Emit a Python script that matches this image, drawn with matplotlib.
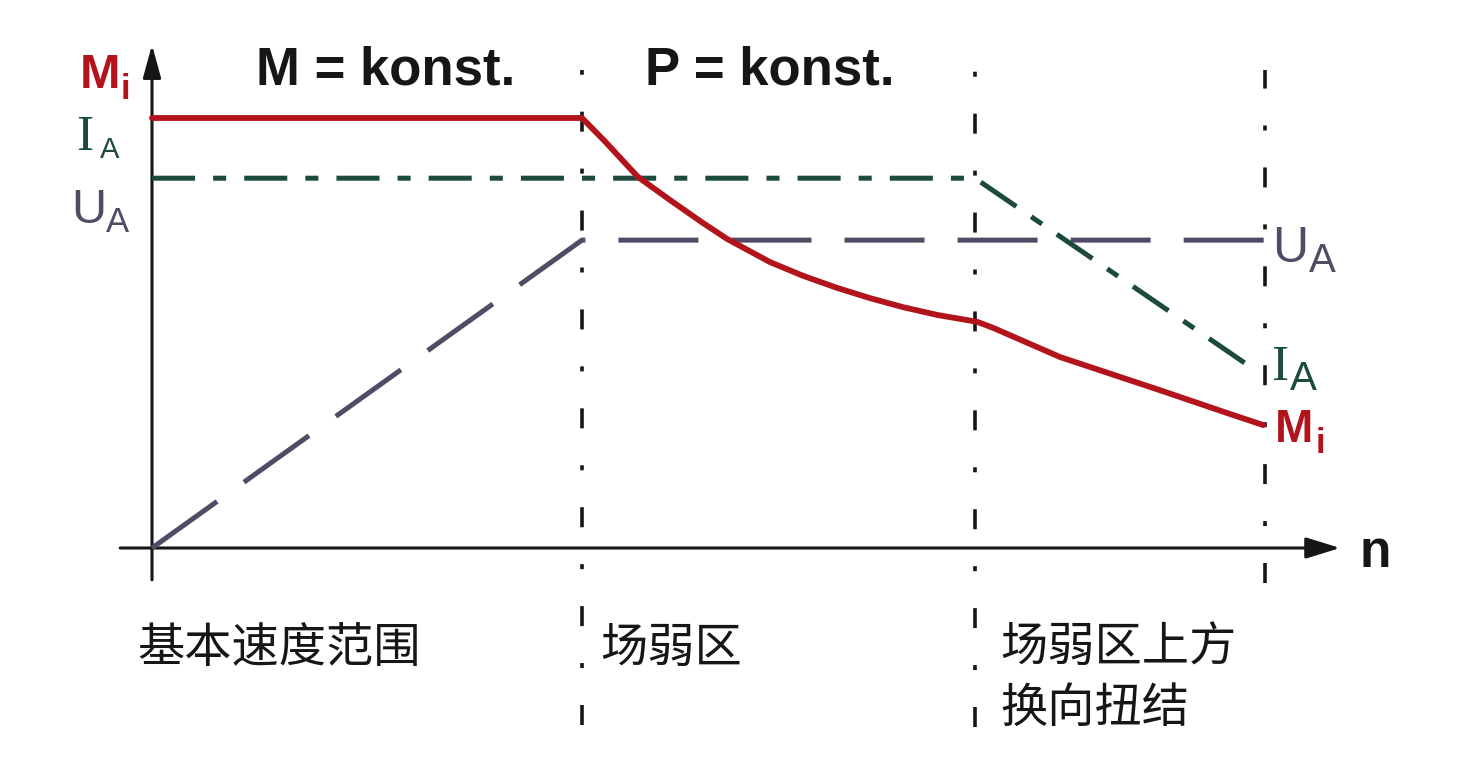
import matplotlib
matplotlib.use("Agg")
import matplotlib.pyplot as plt

# =============================
# DATA (n normalised to base speed, values normalised to rated M)
# =============================

# internal torque M_i: constant, then ~1/n, then steeper drop
MI_N = [0.0, 1.0, 1.053, 1.13, 1.205, 1.281, 1.337, 1.437, 1.514, 1.593,
        1.67, 1.747, 1.826, 1.919, 1.956, 2.112, 2.344, 2.5, 2.584]
MI_V = [1.0, 1.0, 0.946, 0.863, 0.809, 0.756, 0.719, 0.665, 0.633, 0.605,
        0.581, 0.56, 0.542, 0.526, 0.512, 0.444, 0.367, 0.314, 0.286]

# armature current I_A
IA_N = [0.0, 1.914, 2.565]
IA_V = [0.86, 0.86, 0.414]

# armature voltage U_A
UA_N = [0.0, 1.0, 2.588]
UA_V = [0.0, 0.716, 0.716]

# region borders (speed) and how far down each divider goes
BORDER_N = [1.0, 1.914, 2.588]
BORDER_BOTTOM = [-0.412, -0.416, -0.081]
BORDER_TOP = 1.112

REGION_LABELS = ["基本速度范围", "场弱区", "场弱区上方\n换向扭结"]
REGION_X = [-0.035, 1.042, 1.972]
HEADINGS = ["M = konst.", "P = konst."]
HEADING_X = [0.544, 1.437]

# =============================
# STYLE
# =============================

RED = "#b3141b"
GREEN = "#1d4a3e"
PURPLE = "#524b66"
BLACK = "#161616"

plt.rcParams["lines.scale_dashes"] = False
SANS = ["Liberation Sans", "DejaVu Sans"]
SERIF = ["Liberation Serif", "DejaVu Serif"]
CJK = ["Noto Sans CJK SC", "DejaVu Sans"]


def label_with_sub(ax, x, y, main, sub, color, size, sub_size, dx, dy,
                   main_family, weight="normal"):
    ax.text(x, y, main, color=color, fontsize=size, family=main_family,
            fontweight=weight, ha="left", va="baseline")
    ax.text(x + dx, y - dy, sub, color=color, fontsize=sub_size, family=SANS,
            fontweight=weight, ha="left", va="baseline")


def main():
    fig = plt.figure(figsize=(14.81, 7.6), dpi=100)
    ax = fig.add_axes([0, 0, 1, 1])
    ax.set_xlim(-0.3535, 3.0907)
    ax.set_ylim(-0.493, 1.2744)
    ax.set_axis_off()

    # ---- axes with arrows ----
    ax.annotate("", xy=(0, 1.17), xytext=(0, -0.074),
                arrowprops=dict(arrowstyle="-|>,head_length=20,head_width=5.5",
                                mutation_scale=1, lw=2.2, color=BLACK,
                                shrinkA=0, shrinkB=0))
    ax.annotate("", xy=(2.763, 0), xytext=(-0.074, 0),
                arrowprops=dict(arrowstyle="-|>,head_length=21,head_width=6.5",
                                mutation_scale=1, lw=2.2, color=BLACK,
                                shrinkA=0, shrinkB=0))

    # ---- region dividers ----
    for n, bottom in zip(BORDER_N, BORDER_BOTTOM):
        ax.plot([n, n], [bottom, BORDER_TOP], color=BLACK, lw=2.6,
                dashes=(14.4, 26.6, 3.6, 26.6), zorder=2)

    # ---- curves ----
    ax.plot(UA_N, UA_V, color=PURPLE, lw=3.6, dashes=(57.6, 23.8), zorder=3)
    ax.plot(IA_N, IA_V, color=GREEN, lw=3.6, dashes=(31, 13, 9.4, 13), zorder=3)
    ax.plot(MI_N, MI_V, color=RED, lw=4.2, solid_joinstyle="round",
            solid_capstyle="round", zorder=4)

    # ---- headings ----
    for txt, x in zip(HEADINGS, HEADING_X):
        ax.text(x, 1.077, txt, fontsize=38, fontweight="bold", family=SANS,
                ha="center", va="baseline", color=BLACK)

    # ---- left axis labels ----
    label_with_sub(ax, -0.167, 1.070, "M", "i", RED, 35, 25, 0.093, 0.025,
                   SANS, weight="bold")
    label_with_sub(ax, -0.177, 0.926, "I", "A", GREEN, 37, 21, 0.057, 0.02,
                   SERIF)
    label_with_sub(ax, -0.188, 0.756, "U", "A", PURPLE, 35, 25, 0.081, 0.021,
                   SANS)

    # ---- right curve labels ----
    label_with_sub(ax, 2.605, 0.665, "U", "A", PURPLE, 36, 29, 0.086, 0.023,
                   SANS)
    label_with_sub(ax, 2.602, 0.391, "I", "A", GREEN, 37, 29, 0.045, 0.023,
                   SERIF)
    label_with_sub(ax, 2.612, 0.246, "M", "i", RED, 33, 25, 0.095, 0.025,
                   SANS, weight="bold")

    ax.text(2.809, -0.044, "n", fontsize=37, fontweight="bold", family=SANS,
            ha="left", va="baseline", color=BLACK)

    # ---- region names ----
    for txt, x in zip(REGION_LABELS, REGION_X):
        ax.text(x, -0.177, txt, fontsize=34, family=CJK, ha="left", va="top",
                linespacing=1.3, color=BLACK)

    fig.savefig("out.png", dpi=100, facecolor="white")
    plt.close(fig)


if __name__ == "__main__":
    main()
